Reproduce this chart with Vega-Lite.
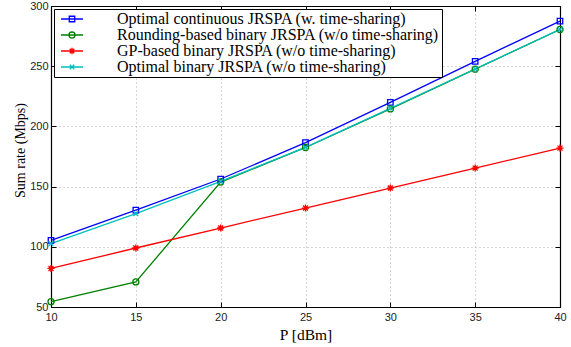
{
  "$schema": "https://vega.github.io/schema/vega-lite/v6.json",
  "width": 509,
  "height": 301,
  "autosize": {"type": "none"},
  "padding": {"left": 51, "top": 6, "right": 11, "bottom": 40},
  "background": "white",
  "config": {
    "view": {"stroke": null},
    "axis": {
      "domainColor": "black",
      "domainWidth": 1.2,
      "tickColor": "black",
      "tickSize": -5,
      "labelFont": "Liberation Sans",
      "labelFontSize": 11,
      "labelColor": "#222",
      "titleFont": "Liberation Serif",
      "titleFontSize": 14,
      "titleFontWeight": "normal",
      "titleColor": "black",
      "gridColor": "#999",
      "gridDash": [1, 3],
      "gridWidth": 0.8
    },
    "legend": {
      "labelFont": "Liberation Serif",
      "labelFontSize": 16,
      "labelColor": "black"
    }
  },
  "data": {
    "values": [
      {"P": 10, "rate": 105.3, "s": "Optimal continuous JRSPA (w. time-sharing)"},
      {"P": 15, "rate": 130.5, "s": "Optimal continuous JRSPA (w. time-sharing)"},
      {"P": 20, "rate": 156.3, "s": "Optimal continuous JRSPA (w. time-sharing)"},
      {"P": 25, "rate": 186.5, "s": "Optimal continuous JRSPA (w. time-sharing)"},
      {"P": 30, "rate": 220, "s": "Optimal continuous JRSPA (w. time-sharing)"},
      {"P": 35, "rate": 254, "s": "Optimal continuous JRSPA (w. time-sharing)"},
      {"P": 40, "rate": 287.5, "s": "Optimal continuous JRSPA (w. time-sharing)"},
      {"P": 10, "rate": 54.4, "s": "Rounding-based binary JRSPA (w/o time-sharing)"},
      {"P": 15, "rate": 70.8, "s": "Rounding-based binary JRSPA (w/o time-sharing)"},
      {"P": 20, "rate": 153.8, "s": "Rounding-based binary JRSPA (w/o time-sharing)"},
      {"P": 25, "rate": 182.5, "s": "Rounding-based binary JRSPA (w/o time-sharing)"},
      {"P": 30, "rate": 214.5, "s": "Rounding-based binary JRSPA (w/o time-sharing)"},
      {"P": 35, "rate": 247.5, "s": "Rounding-based binary JRSPA (w/o time-sharing)"},
      {"P": 40, "rate": 280.5, "s": "Rounding-based binary JRSPA (w/o time-sharing)"},
      {"P": 10, "rate": 82, "s": "GP-based binary JRSPA (w/o time-sharing)"},
      {"P": 15, "rate": 99, "s": "GP-based binary JRSPA (w/o time-sharing)"},
      {"P": 20, "rate": 115.6, "s": "GP-based binary JRSPA (w/o time-sharing)"},
      {"P": 25, "rate": 132.2, "s": "GP-based binary JRSPA (w/o time-sharing)"},
      {"P": 30, "rate": 148.8, "s": "GP-based binary JRSPA (w/o time-sharing)"},
      {"P": 35, "rate": 165.4, "s": "GP-based binary JRSPA (w/o time-sharing)"},
      {"P": 40, "rate": 182, "s": "GP-based binary JRSPA (w/o time-sharing)"},
      {"P": 10, "rate": 102.6, "s": "Optimal binary JRSPA (w/o time-sharing)"},
      {"P": 15, "rate": 127.5, "s": "Optimal binary JRSPA (w/o time-sharing)"},
      {"P": 20, "rate": 154.3, "s": "Optimal binary JRSPA (w/o time-sharing)"},
      {"P": 25, "rate": 182.6, "s": "Optimal binary JRSPA (w/o time-sharing)"},
      {"P": 30, "rate": 215, "s": "Optimal binary JRSPA (w/o time-sharing)"},
      {"P": 35, "rate": 247.7, "s": "Optimal binary JRSPA (w/o time-sharing)"},
      {"P": 40, "rate": 280.6, "s": "Optimal binary JRSPA (w/o time-sharing)"}
    ]
  },
  "layer": [
    {
      "mark": {"type": "line", "strokeWidth": 1.3},
      "encoding": {
        "x": {"field": "P", "type": "quantitative", "scale": {"domain": [10, 40], "nice": false, "zero": false},
          "axis": {"orient": "bottom", "values": [10, 15, 20, 25, 30, 35, 40], "title": "P [dBm]", "titleFontSize": 15.5, "grid": true, "labelPadding": 9, "titlePadding": 5, "labelFlush": false}},
        "y": {"field": "rate", "type": "quantitative", "scale": {"domain": [50, 300], "nice": false, "zero": false},
          "axis": {"orient": "left", "values": [50, 100, 150, 200, 250, 300], "title": "Sum rate (Mbps)", "grid": true, "labelPadding": 8, "titleX": -31, "titleY": 144, "titleBaseline": "middle", "titleAngle": 270, "titleAlign": "center", "labelFlush": false}},
        "color": {"field": "s", "type": "nominal",
          "scale": {"domain": ["Optimal continuous JRSPA (w. time-sharing)", "Rounding-based binary JRSPA (w/o time-sharing)", "GP-based binary JRSPA (w/o time-sharing)", "Optimal binary JRSPA (w/o time-sharing)"],
            "range": ["#0000ff", "#008000", "#ff0000", "#00bfbf"]},
          "legend": {
            "title": null,
            "orient": "top-left",
            "offset": 3,
            "fillColor": "white",
            "strokeColor": "black",
            "padding": 2,
            "symbolSize": 121,
            "symbolOffset": 8,
            "symbolStrokeWidth": 1.3,
            "symbolFillColor": "transparent",
            "labelOffset": 37,
            "rowPadding": -0.4,
            "labelLimit": 400,
            "encode": {
              "symbols": {
                "update": {
                  "shape": {"signal": "datum.index == 0 ? 'M-2,0H2M-0.5,-0.5H0.5V0.5H-0.5Z' : datum.index == 1 ? 'M-2,0H2M-0.55,0A0.55,0.55,0,1,0,0.55,0A0.55,0.55,0,1,0,-0.55,0' : datum.index == 2 ? 'M-2,0H2M0,-0.6V0.6M-0.42,-0.42L0.42,0.42M-0.42,0.42L0.42,-0.42' : 'M-2,0H2M-0.4,-0.4L0.4,0.4M-0.4,0.4L0.4,-0.4'"},
                  "fill": {"value": "transparent"}
                }
              }
            }
          }
        }
      }
    },
    {
      "transform": [{"filter": "datum.s == 'Optimal continuous JRSPA (w. time-sharing)'"}],
      "mark": {"type": "point", "filled": false, "size": 30, "strokeWidth": 1.3, "opacity": 1, "shape": "M-1,-1H1V1H-1Z"},
      "encoding": {
        "x": {"field": "P", "type": "quantitative", "axis": null},
        "y": {"field": "rate", "type": "quantitative", "axis": null},
        "color": {"field": "s", "type": "nominal", "legend": null}
      }
    },
    {
      "transform": [{"filter": "datum.s == 'Rounding-based binary JRSPA (w/o time-sharing)'"}],
      "mark": {"type": "point", "filled": false, "size": 30, "strokeWidth": 1.3, "opacity": 1, "shape": "M-1.1,0A1.1,1.1,0,1,0,1.1,0A1.1,1.1,0,1,0,-1.1,0Z"},
      "encoding": {
        "x": {"field": "P", "type": "quantitative", "axis": null},
        "y": {"field": "rate", "type": "quantitative", "axis": null},
        "color": {"field": "s", "type": "nominal", "legend": null}
      }
    },
    {
      "transform": [{"filter": "datum.s == 'GP-based binary JRSPA (w/o time-sharing)'"}],
      "mark": {"type": "point", "filled": false, "size": 30, "strokeWidth": 1.3, "opacity": 1, "shape": "M-1.3,0H1.3M0,-1.3V1.3M-0.9,-0.9L0.9,0.9M-0.9,0.9L0.9,-0.9"},
      "encoding": {
        "x": {"field": "P", "type": "quantitative", "axis": null},
        "y": {"field": "rate", "type": "quantitative", "axis": null},
        "color": {"field": "s", "type": "nominal", "legend": null}
      }
    },
    {
      "transform": [{"filter": "datum.s == 'Optimal binary JRSPA (w/o time-sharing)'"}],
      "mark": {"type": "point", "filled": false, "size": 30, "strokeWidth": 1.3, "opacity": 1, "shape": "M-0.9,-0.9L0.9,0.9M-0.9,0.9L0.9,-0.9"},
      "encoding": {
        "x": {"field": "P", "type": "quantitative", "axis": null},
        "y": {"field": "rate", "type": "quantitative", "axis": null},
        "color": {"field": "s", "type": "nominal", "legend": null}
      }
    },
    {
      "mark": {"type": "point", "opacity": 0},
      "encoding": {
        "x": {"field": "P", "type": "quantitative",
          "axis": {"orient": "top", "values": [10, 15, 20, 25, 30, 35, 40], "labels": false, "title": null, "grid": false}},
        "y": {"field": "rate", "type": "quantitative",
          "axis": {"orient": "right", "values": [50, 100, 150, 200, 250, 300], "labels": false, "title": null, "grid": false}}
      }
    }
  ]
}
